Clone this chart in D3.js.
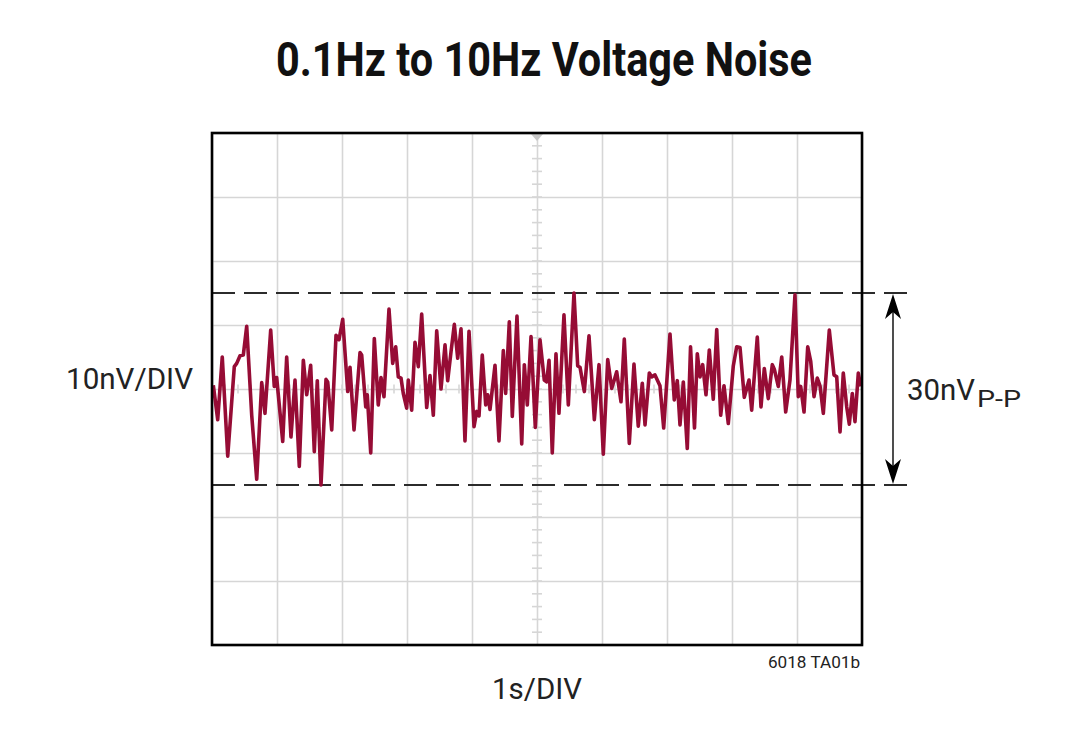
<!DOCTYPE html>
<html><head><meta charset="utf-8">
<script src="https://cdn.jsdelivr.net/npm/d3@7"></script>
<style>body{margin:0;background:#fff;}svg{display:block;}</style>
</head><body>
<svg id="chart" width="1080" height="746"></svg>
<script>
// ---- data ----
const titleText = "0.1Hz to 10Hz Voltage Noise";
const yLabel = "10nV/DIV";
const xLabel = "1s/DIV";
const noteText = "6018 TA01b";
const ppMain = "30nV";
const ppSub = "P-P";
const xDivs = [0,1,2,3,4,5,6,7,8,9,10];          // seconds
const yDivs = [-40,-30,-20,-10,0,10,20,30,40];   // nV
const ppLimits = [-15, 15];                      // nV, peak-to-peak markers
const timeS = [0.020,0.088,0.158,0.242,0.343,0.380,0.431,0.482,0.534,0.611,0.688,0.765,0.815,0.903,0.958,0.995,
1.088,1.149,1.215,1.277,1.343,1.405,1.457,1.518,1.574,1.620,1.677,1.754,1.780,1.842,1.908,1.954,
2.011,2.088,2.123,2.185,2.277,2.303,2.365,2.389,2.442,2.497,2.558,2.600,2.646,2.723,2.780,2.826,2.866,2.908,2.943,2.995,
3.020,3.072,3.123,3.174,3.226,3.303,3.354,3.405,3.457,3.523,3.585,3.626,3.677,3.728,3.780,3.831,3.892,3.954,
4.031,4.072,4.108,4.158,4.211,4.242,4.277,4.354,4.415,4.482,4.518,4.574,4.620,4.692,4.765,4.805,4.851,4.908,4.974,
5.046,5.112,5.149,5.185,5.235,5.292,5.338,5.415,5.482,5.569,5.626,5.662,5.728,5.800,5.882,5.954,
6.020,6.088,6.149,6.189,6.226,6.292,6.343,6.420,6.492,6.558,6.620,6.662,6.728,6.765,6.815,6.892,6.949,
7.046,7.112,7.158,7.200,7.251,7.312,7.362,7.423,7.466,7.508,7.549,7.600,7.651,7.712,7.765,7.826,7.877,7.943,
8.020,8.072,8.123,8.189,8.262,8.303,8.389,8.446,8.497,8.558,8.620,8.651,8.712,8.765,8.826,8.892,8.969,
9.020,9.057,9.108,9.165,9.211,9.262,9.312,9.354,9.405,9.497,9.569,9.611,9.662,9.712,9.765,9.805,9.851,9.892,9.943,9.980];
const noiseNV = [0.6,-4.8,5.0,-10.5,3.5,4.0,5.2,5.3,9.8,-4.1,-14.1,1.0,-3.8,9.2,0.4,1.8,
-8.2,5.0,-7.5,1.4,-12.1,4.5,-0.9,3.7,-9.8,1.3,-15.0,1.5,1.1,-6.4,8.4,7.7,
10.9,-0.4,3.4,-6.4,5.7,5.3,-2.8,-0.9,-10.0,7.9,-2.5,1.8,-1.2,12.5,4.0,6.6,1.9,1.7,-0.7,-3.0,
1.4,-3.3,7.3,3.5,11.7,-2.9,2.1,-4.1,9.1,0.0,6.9,1.3,5.8,10.1,4.8,9.4,-8.1,9.0,
-5.9,-3.5,-4.2,5.3,-2.5,-0.9,-3.2,3.7,-8.1,6.0,-0.7,10.5,-4.3,11.4,-8.6,3.8,-2.5,8.2,-6.0,
7.7,1.4,1.1,4.5,-10.0,5.5,-3.8,11.6,-2.5,15.0,3.6,3.4,-0.4,8.3,-4.8,3.8,
-10.2,4.6,0.1,1.4,2.7,-2.0,7.8,-8.5,3.9,-5.8,0.9,-5.6,2.5,1.9,2.2,0.5,-6.1,
8.6,-1.7,1.3,-5.6,1.1,-9.3,6.6,-6.1,5.5,1.9,3.8,-0.9,6.1,-1.6,9.3,-4.1,0.5,-5.4,
3.6,6.6,6.5,-1.3,1.4,-3.3,8.1,-2.8,3.2,-1.5,3.8,3.1,0.4,5.0,-3.6,1.4,14.7,
-1.2,0.4,-3.6,6.6,4.3,-1.2,1.7,0.5,-3.8,9.2,2.2,1.9,-6.7,2.5,-2.8,-5.5,-0.7,-5.1,2.5,0.4];

// ---- layout ----
const L = 212, R = 862, T = 133, B = 645;
const svg = d3.select("#chart");
const x = d3.scaleLinear().domain([0,10]).range([L,R]);
const y = d3.scaleLinear().domain([-40,40]).range([B,T]);
const gridColor = "#d6d6d6";

// grid via axes
const gx = svg.append("g").attr("transform",`translate(0,${B})`)
  .call(d3.axisBottom(x).tickValues(xDivs).tickSize(-(B-T)).tickFormat(""));
const gy = svg.append("g").attr("transform",`translate(${L},0)`)
  .call(d3.axisLeft(y).tickValues(yDivs).tickSize(-(R-L)).tickFormat(""));
[gx,gy].forEach(g=>{
  g.select(".domain").remove();
  g.selectAll("line").attr("stroke",gridColor).attr("stroke-width",1.6);
});

// minor ticks on center axes
const minorX = d3.range(0,10.001,0.2);
const minorY = d3.range(-40,40.001,2);
svg.append("g").selectAll("line").data(minorX).join("line")
  .attr("x1",d=>x(d)).attr("x2",d=>x(d))
  .attr("y1",y(0)-4.5).attr("y2",y(0)+4.5)
  .attr("stroke",gridColor).attr("stroke-width",1.6);
svg.append("g").selectAll("line").data(minorY).join("line")
  .attr("y1",d=>y(d)).attr("y2",d=>y(d))
  .attr("x1",x(5)-5).attr("x2",x(5)+5)
  .attr("stroke",gridColor).attr("stroke-width",1.6);
// small trigger marker at top center
svg.append("path")
  .attr("d",`M${x(5)-6},${T+1} L${x(5)+6},${T+1} L${x(5)},${T+8} Z`)
  .attr("fill","#c8c8c8");

// peak-to-peak dashed lines
svg.append("g").selectAll("line").data(ppLimits).join("line")
  .attr("x1",L).attr("x2",915)
  .attr("y1",d=>y(d)).attr("y2",d=>y(d))
  .attr("stroke","#2b2b2b").attr("stroke-width",1.8)
  .attr("stroke-dasharray","23,9");

// noise trace
const pts = timeS.map((t,i)=>[t,noiseNV[i]]);
svg.append("path").datum(pts)
  .attr("d",d3.line().x(d=>x(d[0])).y(d=>y(d[1])))
  .attr("fill","none").attr("stroke","#960c35")
  .attr("stroke-width",3.6).attr("stroke-linejoin","round");

// frame
svg.append("rect").attr("x",L).attr("y",T).attr("width",R-L).attr("height",B-T)
  .attr("fill","none").attr("stroke","#000").attr("stroke-width",2.6);

// arrow
const ax = 893;
svg.append("line").attr("x1",ax).attr("x2",ax)
  .attr("y1",y(ppLimits[1])+4).attr("y2",y(ppLimits[0])-4)
  .attr("stroke","#222").attr("stroke-width",1.6);
const hw = 8, hl = 26;
svg.append("path")
  .attr("d",`M${ax},${y(ppLimits[1])+1} L${ax+hw},${y(ppLimits[1])+hl} L${ax},${y(ppLimits[1])+hl-7} L${ax-hw},${y(ppLimits[1])+hl} Z`)
  .attr("fill","#000");
svg.append("path")
  .attr("d",`M${ax},${y(ppLimits[0])-1} L${ax+hw},${y(ppLimits[0])-hl} L${ax},${y(ppLimits[0])-hl+7} L${ax-hw},${y(ppLimits[0])-hl} Z`)
  .attr("fill","#000");

// texts
svg.append("text").attr("x",544).attr("y",76).attr("text-anchor","middle")
  .attr("font-family","Roboto, 'DejaVu Sans Condensed', sans-serif").attr("font-weight",700)
  .attr("font-size",48).attr("textLength",536).attr("lengthAdjust","spacingAndGlyphs")
  .attr("fill","#111").text(titleText);
svg.append("text").attr("x",66).attr("y",389)
  .attr("font-family","Roboto, sans-serif").attr("font-size",29).attr("font-weight",400)
  .attr("textLength",127).attr("lengthAdjust","spacingAndGlyphs")
  .attr("fill","#222").text(yLabel);
svg.append("text").attr("x",492).attr("y",699)
  .attr("font-family","Roboto, sans-serif").attr("font-size",29).attr("font-weight",400)
  .attr("textLength",90).attr("lengthAdjust","spacingAndGlyphs")
  .attr("fill","#222").text(xLabel);
svg.append("text").attr("x",860).attr("y",668).attr("text-anchor","end")
  .attr("font-family","Roboto, sans-serif").attr("font-size",16)
  .attr("textLength",92).attr("lengthAdjust","spacingAndGlyphs")
  .attr("fill","#222").text(noteText);
svg.append("text").attr("x",907).attr("y",400)
  .attr("font-family","Roboto, sans-serif").attr("font-weight",400).attr("fill","#222")
  .attr("font-size",29).attr("textLength",68).attr("lengthAdjust","spacingAndGlyphs")
  .text(ppMain);
svg.append("text").attr("x",977).attr("y",407)
  .attr("font-family","Roboto, sans-serif").attr("font-weight",400).attr("fill","#222")
  .attr("font-size",23).attr("textLength",44).attr("lengthAdjust","spacingAndGlyphs")
  .text(ppSub);
</script>
</body></html>
